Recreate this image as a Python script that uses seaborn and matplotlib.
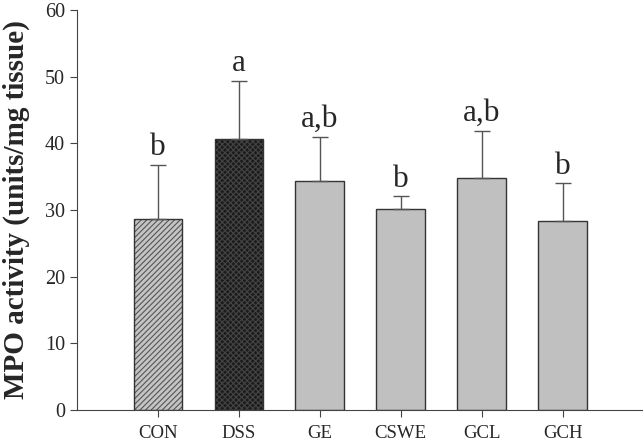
import numpy as np
import pandas as pd
import matplotlib
matplotlib.use("Agg")
import matplotlib.pyplot as plt
import seaborn as sns

groups = ["CON", "DSS", "GE", "CSWE", "GCL", "GCH"]
means = [28.7, 40.7, 34.3, 30.2, 34.8, 28.4]
errors = [8.1, 8.7, 6.7, 1.9, 7.1, 5.6]
letters = ["b", "a", "a,b", "b", "a,b", "b"]

FACE = ["#c4c4c4", "#1c1c1c", "#c0c0c0", "#c0c0c0", "#c0c0c0", "#c0c0c0"]
HATCH = ["//////", "xxxxxx", "", "", "", ""]
HATCH_COLOR = ["#555555", "#444444", "#333333", "#333333", "#333333", "#333333"]


def main() -> None:
    sns.set_style("ticks")
    plt.rcParams["font.family"] = ["Liberation Serif", "DejaVu Serif"]
    plt.rcParams["hatch.linewidth"] = 0.8

    df = pd.DataFrame({"group": groups, "mpo": means})
    fig = plt.figure(figsize=(6.44, 4.45), dpi=100)
    ax = fig.add_axes([0.1196, 0.0787, 0.877, 0.899])

    sns.barplot(data=df, x="group", y="mpo", order=groups, width=0.6,
                color="#c0c0c0", edgecolor="#333333", linewidth=1.0,
                errorbar=None, ax=ax)
    for patch, fc, h, hc in zip(ax.patches, FACE, HATCH, HATCH_COLOR):
        patch.set_facecolor(fc)
        if h:
            patch.set_hatch(h)
            patch._hatch_color = matplotlib.colors.to_rgba(hc)

    x = np.arange(len(groups))
    ax.errorbar(x, means, yerr=[np.zeros(len(errors)), errors], fmt="none",
                ecolor="#555555", elinewidth=1.0, capsize=6, capthick=1.0)
    for xi, m, e, lab in zip(x, means, errors, letters):
        ax.text(xi, m + e + 1.4, lab, ha="center", va="baseline", fontsize=22.5)

    ax.set_xlim(-1, 5.98)
    ax.set_ylim(0, 60)
    ax.set_yticks(range(0, 61, 10))
    ax.set_xlabel("")
    ax.set_ylabel("MPO activity (units/mg tissue)", fontsize=21, fontweight="bold",
                  labelpad=11)
    ax.tick_params(axis="y", labelsize=14.5, direction="out", length=5, color="#444444")
    ax.tick_params(axis="x", labelsize=13.5, direction="out", length=5, color="#444444",
                   pad=6)
    for side in ["left", "bottom"]:
        ax.spines[side].set_color("#444444")
    sns.despine(ax=ax)

    fig.savefig("out.png", dpi=100)
    plt.close(fig)


if __name__ == "__main__":
    main()
